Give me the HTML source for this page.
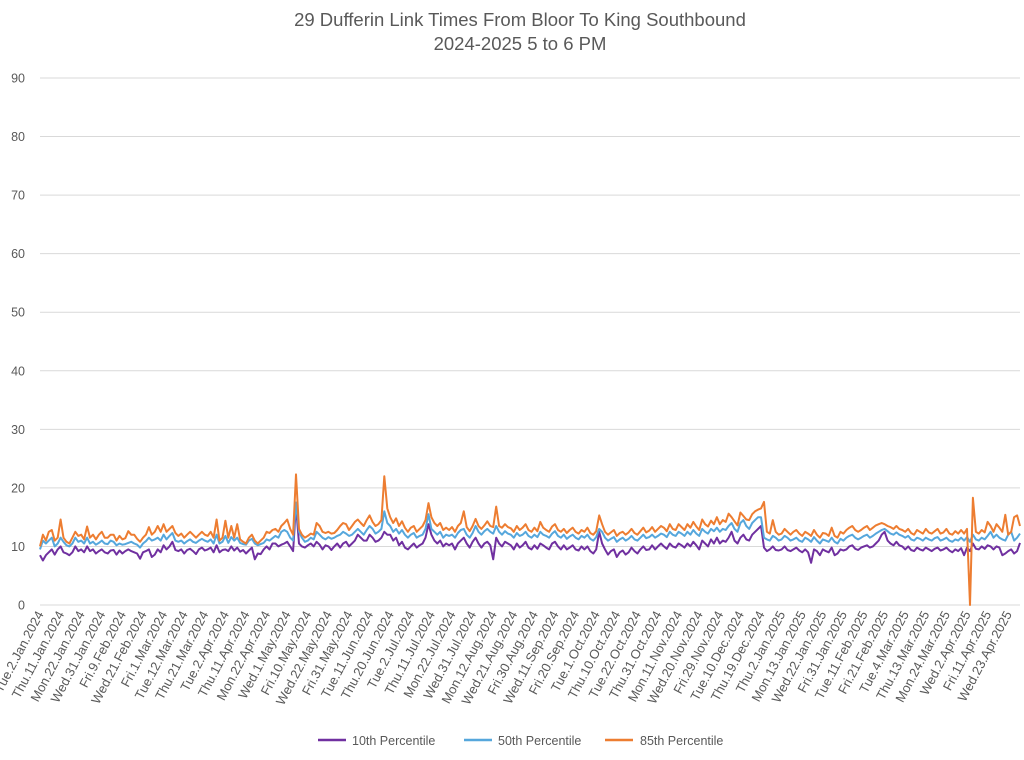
<!DOCTYPE html>
<html><head><meta charset="utf-8"><style>
body{margin:0;background:#fff;font-family:"Liberation Sans",sans-serif}
svg text{font-family:"Liberation Sans",sans-serif;fill:#595959}
</style></head><body>
<svg id="chart" width="1024" height="755" viewBox="0 0 1024 755" xmlns="http://www.w3.org/2000/svg">
<text x="520" y="26" text-anchor="middle" font-size="18.5">29 Dufferin Link Times From Bloor To King Southbound</text>
<text x="520" y="50" text-anchor="middle" font-size="18.5">2024-2025 5 to 6 PM</text>
<g id="grid"></g>
<g id="yaxis"></g>
<g id="xaxis"></g>
<g id="series"></g>
<g>
<g><line x1="318" y1="740" x2="346" y2="740" stroke="#7030a0" stroke-width="2.5"/><text x="352" y="745" font-size="12.5">10th Percentile</text></g>
<g><line x1="464" y1="740" x2="492" y2="740" stroke="#56a7dc" stroke-width="2.5"/><text x="498" y="745" font-size="12.5">50th Percentile</text></g>
<g><line x1="605" y1="740" x2="633" y2="740" stroke="#ed7d31" stroke-width="2.5"/><text x="640" y="745" font-size="12.5">85th Percentile</text></g>
</g>
</svg>
<script>
const yTicks=[0,10,20,30,40,50,60,70,80,90];
const xLabels=["Tue.2.Jan.2024","Thu.11.Jan.2024","Mon.22.Jan.2024","Wed.31.Jan.2024","Fri.9.Feb.2024","Wed.21.Feb.2024","Fri.1.Mar.2024","Tue.12.Mar.2024","Thu.21.Mar.2024","Tue.2.Apr.2024","Thu.11.Apr.2024","Mon.22.Apr.2024","Wed.1.May.2024","Fri.10.May.2024","Wed.22.May.2024","Fri.31.May.2024","Tue.11.Jun.2024","Thu.20.Jun.2024","Tue.2.Jul.2024","Thu.11.Jul.2024","Mon.22.Jul.2024","Wed.31.Jul.2024","Mon.12.Aug.2024","Wed.21.Aug.2024","Fri.30.Aug.2024","Wed.11.Sep.2024","Fri.20.Sep.2024","Tue.1.Oct.2024","Thu.10.Oct.2024","Tue.22.Oct.2024","Thu.31.Oct.2024","Mon.11.Nov.2024","Wed.20.Nov.2024","Fri.29.Nov.2024","Tue.10.Dec.2024","Thu.19.Dec.2024","Thu.2.Jan.2025","Mon.13.Jan.2025","Wed.22.Jan.2025","Fri.31.Jan.2025","Tue.11.Feb.2025","Fri.21.Feb.2025","Tue.4.Mar.2025","Thu.13.Mar.2025","Mon.24.Mar.2025","Wed.2.Apr.2025","Fri.11.Apr.2025","Wed.23.Apr.2025"];
const p50=[9.5,11,10.5,11,11.5,10,10.5,11.5,10.8,10.2,10,10.5,11.5,10.8,11,10.5,11.5,10.5,10.8,10.3,
10.6,11,10.5,10.4,11,10.8,10.2,10.5,10.3,10.4,10.6,10.8,10.5,10.3,9.8,10.5,10.9,11.5,11,11.2,
11.5,11,12,11.2,11.8,12.3,11,10.8,11,10.5,10.9,11.2,10.8,10.6,11,11.3,11,10.8,11.2,10.5,
12,10.5,10.8,11.8,10.6,11.6,11,11.5,10.6,10.4,10.3,11,11.3,10.5,10.2,10.4,10.6,11.2,11,11.4,
11.8,11.5,12.5,12.8,12.5,11.5,11,17.5,12.5,11.5,10.8,11,11.5,11.2,12.5,12,11.5,11.2,11.6,11.3,
11.5,11.8,12,12.5,12.2,11.8,12,12.5,13,12.5,12,12.8,13.5,13,12.2,12.5,13,16,14,13.5,
12.5,13,12.2,12.8,12,11.5,12,12.3,11.5,11.8,12,13,15.5,13,12.5,12,12.5,11.5,12,11.8,
12,11.5,12.3,12.8,13,12,11.5,12.3,13.5,12.5,12,12.6,13,12.5,12.2,13.5,12.5,12,12.6,12.2,
12,11.5,12.3,11.8,12,12.5,11.8,11.5,12,11.6,12.5,12,11.8,11.5,12.2,12.6,11.8,11.5,12,11.3,
11.7,12,11.5,11.2,11.8,11.5,12,11.3,11,11.6,13,12.5,11.5,11,11.3,11.6,10.8,11.2,11.5,11,
11.3,11.8,11.2,11,11.5,12,11.4,11.6,12,11.5,11.8,12.2,12,11.6,12.5,12,11.8,12.5,12.2,11.8,
12.5,12,12.8,12.2,11.8,13,12.5,12.2,13,12.6,13.2,12.5,13,12.8,13.5,14,13,12.5,14,14.5,
13.5,13,14,14.5,15,15,11.5,11.2,11,11.8,11.5,11,11.2,11.8,11.5,11,11.2,11.5,11,10.8,
11.5,11.2,10.8,11.6,11,10.5,11.2,11,10.8,11.5,10.8,10.5,11.3,11,11.5,11.8,12,11.5,11.2,11.5,
11.8,12,11.5,11.8,12.2,12.5,12.8,13,12.6,12.2,12,12.4,12,11.8,11.5,11.8,11.2,11,11.5,11.3,
11,11.5,11.2,11,11.4,11.6,11,11.2,11.5,11,10.8,11.2,11,11.5,11,11.6,10.8,12,11.2,11,
11.5,11.2,11.8,12.5,11.5,12,11.5,11.2,11,12,12.5,11,11.5,12.2];
const p10=[8.5,7.6,8.5,9,9.5,8.6,9.5,10,9,8.8,8.5,9,10,9.2,9.5,9,10,9.2,9.5,8.8,
9.2,9.5,9,8.8,9.3,9.4,8.6,9.3,8.8,9.2,9.5,9.2,9,8.8,7.9,9,9.2,9.5,8.2,8.6,
9.5,9,10.2,9.5,10,10.8,9.4,9.2,9.5,8.8,9.4,9.6,9.2,8.7,9.5,9.8,9.3,9.5,9.8,9,
10.2,9,9.4,9.5,9.2,10,9.3,9.8,9.1,9.4,8.8,9.3,9.8,7.8,8.8,8.7,9.5,10,9.5,10.5,
10.5,10,10.3,10.5,10.8,10,9.2,17,10.5,10,9.8,10.2,10.5,10,10.8,10.3,9.5,10.2,10,9.4,
10,10.5,9.8,10.5,10.8,10,10.5,11,12,11.5,11,11,12,11.5,10.8,11,11.5,12.5,12,12,
11,11.5,10.2,10.8,9.8,9.5,10,10.5,9.8,10.2,10.5,11.5,13.8,12,11,10.5,11,10,10.5,10.2,
10.5,9.5,10.5,11,11.5,10.5,9.8,10.8,11.5,10.5,9.8,10.5,10.8,10.2,7.8,11.5,10.5,10,10.8,10.5,
10.2,9.5,10.5,9.8,10.2,10.8,9.8,9.5,10.2,9.6,10.5,10.2,9.8,9.5,10.5,10.8,10,9.5,10.2,9.5,
9.8,10.2,9.5,9.3,10,9.5,10,9.2,8.8,9.5,12.5,10.5,9.5,8.6,9.2,9.5,8.2,9,9.3,8.6,
9,9.8,9.2,8.8,9.5,10,9.4,9.5,10.2,9.5,10,10.5,10,9.6,10.5,10,9.8,10.5,10.2,9.8,
10.5,10,10.8,10.2,9.5,11,10.5,10,11.2,10.5,11.5,10.5,11,10.8,11.5,12.5,11,10.5,11.5,12,
11.2,11,12,12.5,13,13.5,9.8,9.2,9.5,10,9.4,9.3,9.5,10,9.4,9.2,9.5,9.8,9.3,9,
9.5,9,7.2,9.5,9.2,8.5,9.5,9.2,9,9.8,8.5,8.8,9.5,9.3,9.5,10,10.2,9.6,9.4,9.8,
10,10.2,9.8,10,10.5,11,12,12.5,11,10.5,10.2,10.8,10.2,10,9.5,10,9.4,9.2,9.8,9.5,
9.3,9.8,9.5,9.2,9.6,9.8,9.3,9.5,9.8,9.3,9,9.5,9.2,9.7,8.5,9.8,9.2,10.5,9.6,9.5,
10,9.6,10.2,10,9.5,10,9.8,8.5,8.8,9.2,9.5,8.8,9.2,10.6];
const p85=[10,12,11,12.5,12.8,11,11.5,14.6,11.5,10.8,10.5,11.5,12.5,11.8,12,11.2,13.4,11.5,12,11.2,
12,12.5,11.5,11.5,12,12,11,11.8,11.2,11.4,12.6,12,12,11.3,10.8,11.5,12,13.3,12,12.5,
13.5,12.5,13.8,12.5,13,13.5,12.3,11.8,12.2,11.5,12,12.5,12,11.5,12,12.5,12,11.8,12.5,11.5,
14.6,11,11.5,14.4,11.5,13.5,11.5,13.8,11.2,10.8,10.5,11.5,12,11,10.5,11,11.5,12.5,12.3,12.8,
13,12.5,13.5,14,14.6,13,12,22.3,13,12,11.5,11.8,12.2,12,14,13.5,12.5,12.3,12.5,12.2,
12.3,12.8,13.5,14,13.8,12.8,13.5,14.2,14.6,14,13.5,14.5,15.3,14.2,13.5,13.8,14.5,22,16.5,15,
14,14.8,13.5,14.3,13.2,12.5,13.2,13.5,12.5,13,13.5,14.5,17.4,15,14,13.5,14,12.8,13.2,12.8,
13.3,12.5,13.5,14,16,13.3,12.6,13.5,14.7,13.5,13,13.6,14.3,13.5,13.3,16.8,13.5,13.2,13.8,13.3,
13.1,12.5,13.5,12.8,13.2,13.8,12.8,12.5,13.2,12.6,14.2,13.2,12.8,12.5,13.4,13.8,12.8,12.5,13,12.3,
12.8,13.2,12.5,12.2,12.8,12.5,13.2,12.3,12,12.6,15.3,13.8,12.5,12,12.4,12.8,11.8,12.3,12.5,12,
12.4,13,12.3,12,12.6,13.2,12.4,12.7,13.3,12.5,13,13.5,13.2,12.6,13.8,13,12.8,13.8,13.3,12.8,
13.8,13.2,14.2,13.4,12.8,14.6,13.8,13.4,14.4,13.8,15,13.8,14.5,14.2,15.6,15,14.3,13.6,15.8,15.2,
14.6,14.5,15.5,16,16.3,16.5,17.6,12.5,12.2,14.5,12.5,12,12.2,13,12.5,12,12.5,12.8,12.2,11.8,
12.5,12.2,11.8,12.8,12,11.5,12.3,12.2,11.8,13.2,11.8,11.5,12.5,12.2,12.8,13.2,13.5,12.8,12.5,12.8,
13.2,13.5,12.8,13.2,13.6,13.8,14,13.8,13.5,13.3,13,13.5,13,12.8,12.5,13,12.3,12,12.8,12.5,
12.2,13,12.4,12.2,12.6,13,12.2,12.4,13,12.2,12,12.6,12.2,12.8,12.2,13,0,18.3,12.5,12.2,
12.8,12.4,14.2,13.5,12.5,13.8,13.2,12.5,15.4,12,12.5,15,15.3,13.5];

const NS="http://www.w3.org/2000/svg";
const X0=40,X1=1020,Y0=605,Y90=78;
const N=p50.length;
function xs(i){return X0+i*(X1-X0)/(N-1);}
function ys(v){return Y0-(v/90)*(Y0-Y90);}
const grid=document.getElementById('grid'),yax=document.getElementById('yaxis'),xax=document.getElementById('xaxis'),ser=document.getElementById('series');
yTicks.forEach(t=>{
  const l=document.createElementNS(NS,'line');
  l.setAttribute('x1',X0);l.setAttribute('x2',X1);l.setAttribute('y1',ys(t));l.setAttribute('y2',ys(t));
  l.setAttribute('stroke','#d9d9d9');l.setAttribute('stroke-width','1');
  
  
  grid.appendChild(l);
  const tx=document.createElementNS(NS,'text');
  tx.setAttribute('x',25);tx.setAttribute('y',ys(t)+4.5);tx.setAttribute('text-anchor','end');tx.setAttribute('font-size','12.5');
  tx.textContent=t;
  
  
  yax.appendChild(tx);
});
xLabels.forEach((lab,k)=>{
  const i=k*7;
  const x=xs(i)+4,y=614;
  const tx=document.createElementNS(NS,'text');
  tx.setAttribute('transform','translate('+x+','+y+') rotate(-62)');
  tx.setAttribute('text-anchor','end');tx.setAttribute('font-size','13');
  tx.textContent=lab;
  
  
  xax.appendChild(tx);
});
[[p10,'#7030a0','line-10th-percentile'],[p50,'#56a7dc','line-50th-percentile'],[p85,'#ed7d31','line-85th-percentile']].forEach(([arr,c,name])=>{
  const p=document.createElementNS(NS,'polyline');
  p.setAttribute('points',arr.map((v,i)=>xs(i).toFixed(1)+','+ys(v).toFixed(1)).join(' '));
  p.setAttribute('fill','none');p.setAttribute('stroke',c);p.setAttribute('stroke-width','2');p.setAttribute('stroke-linejoin','round');
  
  
  ser.appendChild(p);
});
</script>
</body></html>
